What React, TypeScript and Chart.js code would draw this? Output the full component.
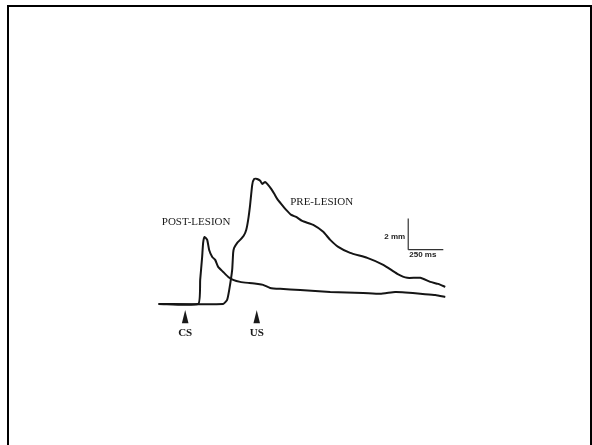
import React, { useEffect, useRef } from "react";
import { Chart, registerables } from "chart.js";

Chart.register(...registerables);

// Time (ms, CS onset = 0) and eyelid response (mm)
const postTime = [-190, 93, 107, 121, 128, 139, 157, 171, 193, 214, 235, 271, 307, 342, 392, 456, 520, 556, 606, 677, 820, 1034, 1269, 1390, 1497, 1569, 1676, 1783, 1854];
const postValue = [0, 0, 1.55, 3.03, 3.94, 4.32, 4.13, 3.48, 3.03, 2.84, 2.39, 2.06, 1.74, 1.55, 1.42, 1.35, 1.29, 1.23, 1.03, 0.97, 0.9, 0.77, 0.71, 0.65, 0.77, 0.74, 0.65, 0.58, 0.45];

const preTime = [-190, 271, 299, 314, 335, 342, 349, 371, 392, 417, 435, 449, 463, 478, 492, 513, 535, 549, 570, 585, 613, 635, 656, 684, 720, 756, 791, 834, 913, 984, 1034, 1091, 1176, 1298, 1412, 1512, 1583, 1676, 1747, 1804, 1854];
const preValue = [0, 0, 0.26, 0.9, 2.19, 3.29, 3.61, 3.94, 4.13, 4.39, 4.77, 5.42, 6.39, 7.68, 8.06, 8.06, 7.94, 7.74, 7.87, 7.74, 7.42, 7.1, 6.77, 6.45, 6.06, 5.74, 5.61, 5.35, 5.1, 4.65, 4.13, 3.68, 3.29, 2.97, 2.52, 1.94, 1.68, 1.68, 1.42, 1.29, 1.1];

const traceLabels = ["POST-LESION", "PRE-LESION"];
const stimulusLabels = ["CS", "US"];
const stimulusTimes = [0, 510];

// Scale bar: 250 ms horizontal, 2 mm vertical
const scaleBarOriginTime = 1590;
const scaleBarOriginValue = 3.5;
const scaleBarTimeLength = 250;
const scaleBarValueLength = 2;
const scaleBarTimeLabel = "250 ms";
const scaleBarValueLabel = "2 mm";

const annotationPlugin = {
  id: "traceAnnotations",
  afterDatasetsDraw(chart: any) {
    const ctx = chart.ctx;
    const xs = chart.scales.x;
    const ys = chart.scales.y;
    ctx.save();
    ctx.fillStyle = "#1a1a1a";
    // trace labels
    ctx.font = "11px 'Liberation Serif', 'Times New Roman', serif";
    ctx.textAlign = "center";
    ctx.textBaseline = "middle";
    const labelPos = [
      [78, 5.29],
      [973, 6.58],
    ];
    traceLabels.forEach((t, i) => {
      ctx.fillText(t, xs.getPixelForValue(labelPos[i][0]), ys.getPixelForValue(labelPos[i][1]));
    });
    // stimulus markers
    ctx.font = "bold 11px 'Liberation Serif', 'Times New Roman', serif";
    stimulusLabels.forEach((lab, i) => {
      const px = xs.getPixelForValue(stimulusTimes[i]);
      const top = ys.getPixelForValue(-0.4);
      const bot = ys.getPixelForValue(-1.25);
      ctx.beginPath();
      ctx.moveTo(px, top);
      ctx.lineTo(px - 3.3, bot);
      ctx.lineTo(px + 3.3, bot);
      ctx.closePath();
      ctx.fill();
      ctx.fillText(lab, px, ys.getPixelForValue(-1.88));
    });
    // scale bar labels
    ctx.font = "bold 8px 'Liberation Sans', Arial, sans-serif";
    ctx.fillStyle = "#222";
    ctx.textAlign = "right";
    ctx.fillText(
      scaleBarValueLabel,
      xs.getPixelForValue(scaleBarOriginTime) - 3,
      ys.getPixelForValue(scaleBarOriginValue + 0.82)
    );
    ctx.textAlign = "left";
    ctx.fillText(
      scaleBarTimeLabel,
      xs.getPixelForValue(scaleBarOriginTime) + 1,
      ys.getPixelForValue(scaleBarOriginValue - 0.36)
    );
    ctx.restore();
  },
};

export default function App() {
  const ref = useRef<HTMLCanvasElement | null>(null);
  useEffect(() => {
    if (!ref.current) return;
    const toPts = (t: number[], v: number[]) => t.map((x, i) => ({ x, y: v[i] }));
    const chart = new Chart(ref.current, {
      type: "line",
      data: {
        datasets: [
          {
            label: traceLabels[0],
            data: toPts(postTime, postValue),
            borderColor: "#151515",
            borderWidth: 2,
            pointRadius: 0,
            tension: 0.15,
          },
          {
            label: traceLabels[1],
            data: toPts(preTime, preValue),
            borderColor: "#151515",
            borderWidth: 2,
            pointRadius: 0,
            tension: 0.15,
          },
          {
            label: "scale-v",
            data: [
              { x: scaleBarOriginTime, y: scaleBarOriginValue },
              { x: scaleBarOriginTime, y: scaleBarOriginValue + scaleBarValueLength },
            ],
            borderColor: "#333",
            borderWidth: 1.2,
            pointRadius: 0,
          },
          {
            label: "scale-h",
            data: [
              { x: scaleBarOriginTime, y: scaleBarOriginValue },
              { x: scaleBarOriginTime + scaleBarTimeLength, y: scaleBarOriginValue },
            ],
            borderColor: "#333",
            borderWidth: 1.2,
            pointRadius: 0,
          },
        ],
      },
      options: {
        animation: false,
        responsive: false,
        layout: { padding: 0 },
        scales: {
          x: { type: "linear", min: -1320, max: 2900, display: false },
          y: { type: "linear", min: -9.1, max: 19.6, display: false },
        },
        plugins: { legend: { display: false }, tooltip: { enabled: false } },
      },
      plugins: [annotationPlugin],
    });
    return () => chart.destroy();
  }, []);

  return (
    <div style={{ position: "absolute", left: 0, top: 0, width: 592, height: 445, overflow: "hidden", background: "#fff" }}>
      <div
        style={{
          position: "absolute",
          left: 7,
          top: 5,
          width: 585,
          height: 460,
          border: "2.5px solid #000",
          boxSizing: "border-box",
        }}
      />
      <canvas ref={ref} width={592} height={445} style={{ position: "absolute", left: 0, top: 0, width: 592, height: 445 }} />
    </div>
  );
}
